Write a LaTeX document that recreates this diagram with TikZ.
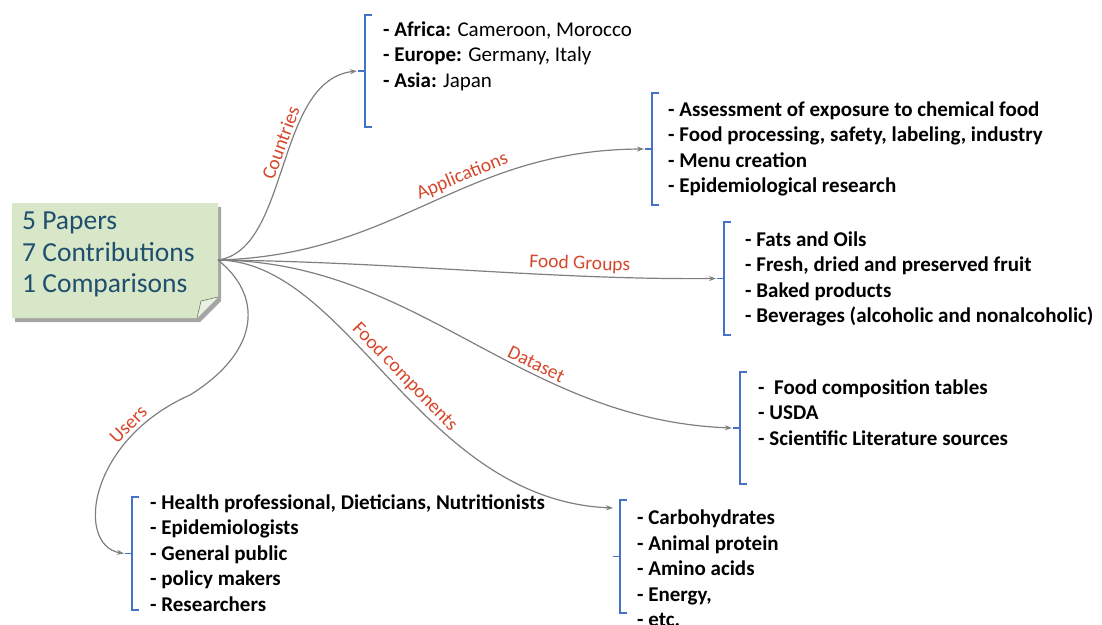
\documentclass[tikz,border=0pt]{standalone}
\usepackage{fontspec}
\setmainfont{Carlito}
\usetikzlibrary{arrows.meta,shadows}

\definecolor{linkgray}{HTML}{7F7F7F}
\definecolor{bracketblue}{HTML}{4472C4}
\definecolor{labelred}{HTML}{D6472C}
\definecolor{notegreen}{HTML}{D7E7C7}
\definecolor{noteink}{HTML}{1F4E6E}

\tikzset{
  link/.style = {draw = linkgray, line width = 1.2pt, -{Stealth[length = 7pt, width = 5pt]}},
  linklabel/.style = {text = labelred, font = \fontsize{19.5}{22}\selectfont, sloped, above, inner sep = 3pt},
  itemlist/.style = {anchor = north west, align = left, inner sep = 0pt, font = \fontsize{21}{25.5}\selectfont},
  boldlist/.style = {itemlist, font = \fontsize{21}{25.5}\selectfont\bfseries},
  bracket/.style = {draw = bracketblue, line width = 1.8pt, line join = miter},
  notebox/.style = {fill = notegreen, drop shadow = {shadow xshift = 3pt, shadow yshift = -4pt, opacity = 0.5, fill = black!70}},
  notetext/.style = {anchor = north west, align = left, inner sep = 0pt, text = noteink, font = \fontsize{27.5}{31.5}\selectfont}
}

% name, x, top, bottom
\newcommand{\listbracket}[4]{%
  \draw[bracket] (#2+7, #3) -- (#2, #3) -- (#2, #4) -- (#2+7, #4);
  \draw[bracket] (#2, {(#3+#4)/2}) -- (#2-7, {(#3+#4)/2});
  \coordinate (#1) at (#2-8, {(#3+#4)/2});
  \coordinate (#1 top) at (#2-7, #3+8);
}

\begin{document}
\begin{tikzpicture}[x = 1pt, y = -1pt]
  \useasboundingbox (0, 0) rectangle (1102, 624);

  % summary note
  \path[notebox] (12, 203) -- (218, 203) -- (218, 297) -- (197, 318) -- (12, 318) -- cycle;
  \fill[notegreen!55!white] (197, 318) -- (218, 297) -- (201, 301) -- cycle;
  \draw[notegreen!50!black, line width = 0.6pt] (197, 318) -- (201, 301) -- (218, 297);
  \node[notetext] (summary) at (22, 212) {5 Papers\\7 Contributions\\1 Comparisons};
  \coordinate (hub) at (218, 260);

  % brackets
  \listbracket{countries}{365}{15}{127}
  \listbracket{applications}{652}{93}{205}
  \listbracket{foodgroups}{724}{222}{335}
  \listbracket{dataset}{740}{372}{484}
  \listbracket{users}{132}{497}{610}
  \listbracket{fcomps}{620}{500}{613}

  % lists
  \node[itemlist] (countrylist) at (383, 21.5) {\textbf{- Africa:} Cameroon, Morocco\\\textbf{- Europe:} Germany, Italy\\\textbf{- Asia:} Japan};
  \node[boldlist] (applist) at (668, 101.5) {- Assessment of exposure to chemical food\\- Food processing, safety, labeling, industry\\- Menu creation\\- Epidemiological research};
  \node[boldlist] (grouplist) at (745, 231.5) {- Fats and Oils\\- Fresh, dried and preserved fruit\\- Baked products\\- Beverages (alcoholic and nonalcoholic)};
  \node[boldlist] (datalist) at (758, 379.5) {-\ \ Food composition tables\\- USDA\\- Scientific Literature sources};
  \node[boldlist] (userlist) at (150, 494.5) {- Health professional, Dieticians, Nutritionists\\- Epidemiologists\\- General public\\- policy makers\\- Researchers};
  \node[boldlist] (complist) at (637, 510) {- Carbohydrates\\- Animal protein\\- Amino acids\\- Energy,\\- etc.};

  % connectors
  \draw[link] (hub) .. controls (290, 250) and (275, 80) .. (countries) node[linklabel, pos = 0.57] {Countries};
  \draw[link] (hub) .. controls (400, 255) and (460, 150) .. (applications) node[linklabel, pos = 0.6] {Applications};
  \draw[link] (hub) .. controls (400, 262) and (550, 280) .. (foodgroups) node[linklabel, pos = 0.72] {Food Groups};
  \draw[link] (hub) .. controls (420, 262) and (520, 420) .. (dataset) node[linklabel, pos = 0.63] {Dataset};
  \draw[link] (hub) .. controls (350, 262) and (420, 500) .. (fcomps top) node[linklabel, pos = 0.51] {Food components};
  \draw[link] (hub) .. controls (262, 295) and (262, 350) .. (190, 395) .. controls (88, 440) and (75, 545) .. (users) node[linklabel, pos = 0.22] {Users};
\end{tikzpicture}
\end{document}
